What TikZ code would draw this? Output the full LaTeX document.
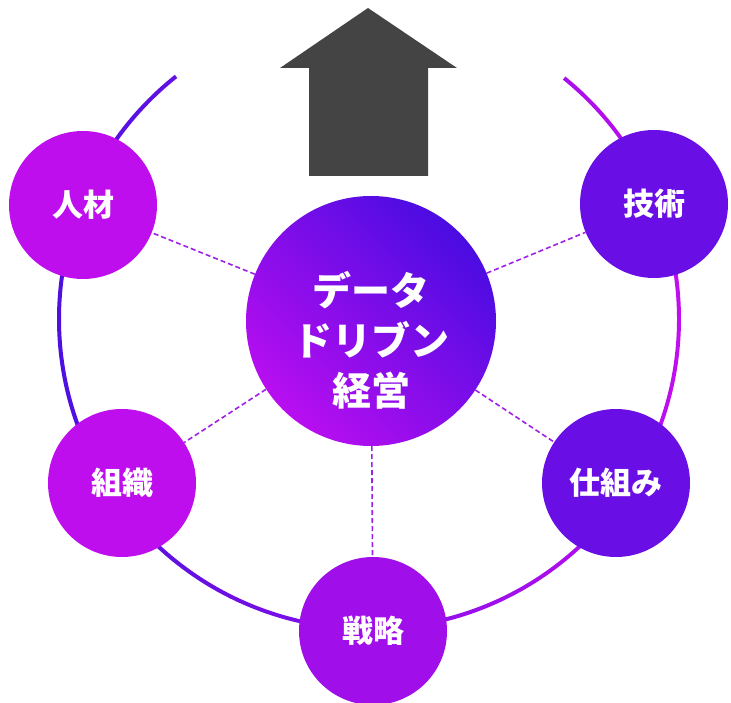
\documentclass[tikz,border=0pt]{standalone}
\usepackage{fontspec}
\newfontfamily\jp{Noto Sans CJK JP}
\usetikzlibrary{calc}
\definecolor{hubA}{RGB}{74,12,226}
\definecolor{hubB}{RGB}{184,14,240}
\definecolor{magentac}{RGB}{190,14,238}
\definecolor{violetc}{RGB}{106,14,230}
\definecolor{midc}{RGB}{160,14,234}
\definecolor{linkc}{RGB}{160,32,232}
\definecolor{ringL}{RGB}{74,16,224}
\definecolor{ringM}{RGB}{128,16,232}
\definecolor{ringR}{RGB}{196,14,240}
\definecolor{arrowc}{RGB}{68,68,68}
\pgfdeclarelayer{bg}
\pgfsetlayers{bg,main}
\begin{document}
\begin{tikzpicture}[x=1pt,y=1pt,
  bubble/.style={circle, minimum size=148pt, inner sep=0pt, draw=none, text=white,
    font=\jp\bfseries\fontsize{31}{36}\selectfont},
  link/.style={draw=linkc, dash pattern=on 5pt off 3pt, line width=1.6pt}]
\useasboundingbox (0,0) rectangle (731,702);
% central hub
\node[circle, minimum size=250pt, inner sep=0pt, draw=none,
  top color=hubA, bottom color=hubB, shading angle=-45] (hub) at (371,381) {};
\node[text=white, align=center, inner sep=0pt,
  font=\jp\bfseries\fontsize{39}{50}\selectfont] (hubtext) at (371,362)
  {データ\\ドリブン\\経営};
% outer bubbles
\node[bubble, fill=magentac] (jinzai) at (83,497) {人材};
\node[bubble, fill=violetc] (gijutsu) at (654,498) {技術};
\node[bubble, fill=magentac] (soshiki) at (122,219) {組織};
\node[bubble, fill=violetc] (shikumi) at (616,219) {仕組み};
\node[bubble, fill=midc] (senryaku) at (373,71) {戦略};
% arrow
\fill[arrowc] (368,694) -- (457,634) -- (428,634) -- (428,526) -- (309,526)
  -- (309,634) -- (280,634) -- cycle;
\begin{pgfonlayer}{bg}
  \coordinate (rc) at (369,383);
  \begin{scope}
    \clip (rc) ++(128.5:312) arc[start angle=128.5, end angle=411, radius=312]
      -- ++(231:4) arc[start angle=411, end angle=128.5, radius=308] -- cycle;
    \shade[left color=ringL, middle color=ringM, right color=ringR]
      (40,50) rectangle (700,700);
  \end{scope}
  \draw[link] (hub) -- (jinzai);
  \draw[link] (hub) -- (gijutsu);
  \draw[link] (hub) -- (soshiki);
  \draw[link] (hub) -- (shikumi);
  \draw[link] (hub) -- (senryaku);
\end{pgfonlayer}
\end{tikzpicture}
\end{document}
